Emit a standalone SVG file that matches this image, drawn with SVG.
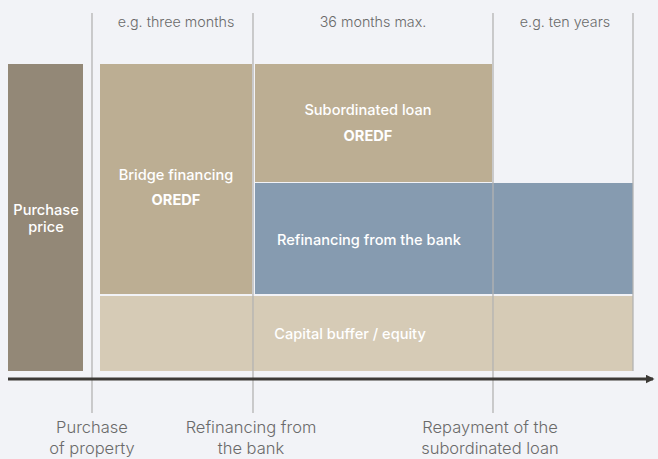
<svg xmlns="http://www.w3.org/2000/svg" width="658" height="459" viewBox="0 0 658 459">
<defs>
<style>
.bg{fill:#f2f3f7}
.vl{stroke:#b3b3b3;stroke-width:1.3;fill:none}
.hdr{font-family:Inter,"Liberation Sans",sans-serif;font-size:14.3px;fill:#6a6a6a;text-anchor:middle;font-weight:300}
.bot{font-family:Inter,"Liberation Sans",sans-serif;font-size:16.5px;fill:#6a6a6a;text-anchor:middle;font-weight:300}
.lbl{font-family:Inter,"Liberation Sans",sans-serif;font-size:14.6px;fill:#ffffff;text-anchor:middle;font-weight:500}
.b{font-weight:700}
</style>
<marker id="arr" viewBox="0 0 6 6" refX="5" refY="3" markerWidth="3" markerHeight="3" orient="auto" markerUnits="strokeWidth">
<path d="M0,0 L6,3 L0,6 z" fill="#3c3a36"/>
</marker>
</defs>
<rect class="bg" x="0" y="0" width="658" height="459"/>

<g id="purchase-price">
<rect x="8" y="64" width="75" height="307" fill="#938877"/>
<text class="lbl" x="46" y="215">Purchase</text>
<text class="lbl" x="46" y="232">price</text>
</g>
<g id="bridge-financing">
<rect x="100" y="64" width="152" height="230" fill="#bcae93"/>
<text class="lbl" x="176" y="180">Bridge financing</text>
<text class="lbl b" x="176" y="205">OREDF</text>
</g>
<g id="subordinated-loan">
<rect x="255" y="64" width="237" height="118" fill="#bcae93"/>
<text class="lbl" x="368" y="115">Subordinated loan</text>
<text class="lbl b" x="368" y="141">OREDF</text>
</g>
<g id="refinancing">
<rect x="255" y="183" width="378" height="111" fill="#869bb0"/>
<text class="lbl" x="369" y="245">Refinancing from the bank</text>
</g>
<g id="capital-buffer">
<rect x="100" y="296" width="533" height="75" fill="#d6cbb6"/>
<text class="lbl" x="350" y="339">Capital buffer / equity</text>
</g>

<g id="connectors">
<line class="vl" x1="92" y1="13" x2="92" y2="413"/>
<line class="vl" x1="253" y1="13" x2="253" y2="413"/>
<line class="vl" x1="493" y1="13" x2="493" y2="413"/>
<line class="vl" x1="633" y1="13" x2="633" y2="371"/>
<line x1="8" y1="379" x2="653" y2="379" stroke="#3c3a36" stroke-width="3" marker-end="url(#arr)"/>
</g>

<g id="headers">
<text class="hdr" x="176" y="27">e.g. three months</text>
<text class="hdr" x="373" y="27">36 months max.</text>
<text class="hdr" x="565" y="27">e.g. ten years</text>
</g>
<g id="milestones">
<text class="bot" x="92" y="433">Purchase</text>
<text class="bot" x="92" y="454">of property</text>
<text class="bot" x="251" y="433">Refinancing from</text>
<text class="bot" x="251" y="454">the bank</text>
<text class="bot" x="490" y="433">Repayment of the</text>
<text class="bot" x="490" y="454">subordinated loan</text>
</g>
</svg>
